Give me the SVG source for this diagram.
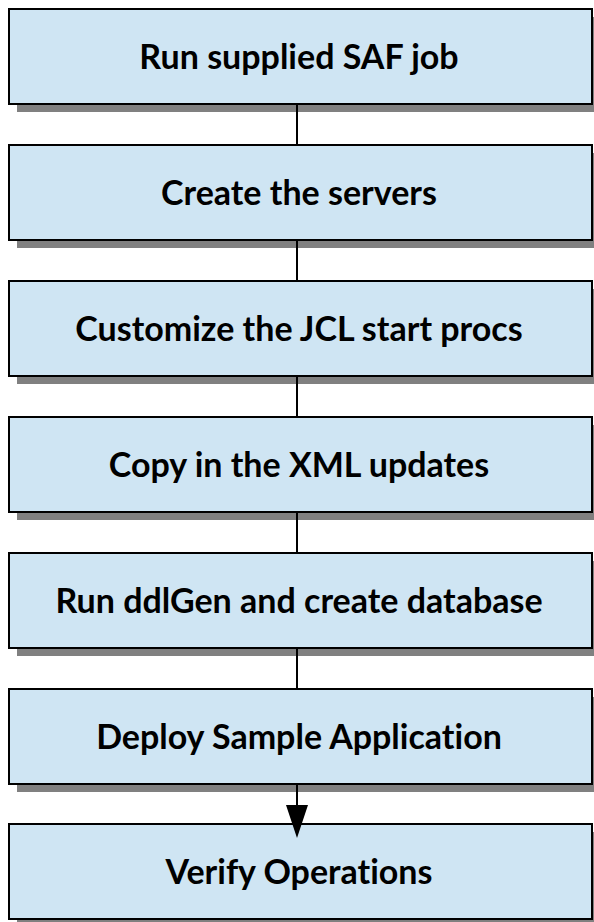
<svg xmlns="http://www.w3.org/2000/svg" width="594" height="922" viewBox="0 0 594 922">
  <style>
    .shadow { fill: #808080; }
    .box { fill: #cfe5f3; stroke: #000; stroke-width: 2; }
    .label { font-family: Lato, "Open Sans", "Liberation Sans", sans-serif; font-weight: bold; font-size: 34px; fill: #000; text-anchor: middle; font-variant-ligatures: none; }
    .link { stroke: #000; stroke-width: 2; fill: none; }
    .head { fill: #000; }
  </style>
  <rect width="594" height="922" fill="#fff"/>

  <g id="step1">
    <rect class="shadow" x="17" y="17" width="583" height="95"/>
    <rect class="box" x="9" y="9" width="583" height="95"/>
    <text class="label" x="299" y="69">Run supplied SAF job</text>
  </g>
  <g id="step2">
    <rect class="shadow" x="17" y="153" width="583" height="95"/>
    <rect class="box" x="9" y="145" width="583" height="95"/>
    <text class="label" x="299" y="205">Create the servers</text>
  </g>
  <g id="step3">
    <rect class="shadow" x="17" y="289" width="583" height="95"/>
    <rect class="box" x="9" y="281" width="583" height="95"/>
    <text class="label" x="299" y="341">Customize the JCL start procs</text>
  </g>
  <g id="step4">
    <rect class="shadow" x="17" y="425" width="583" height="95"/>
    <rect class="box" x="9" y="417" width="583" height="95"/>
    <text class="label" x="299" y="477">Copy in the XML updates</text>
  </g>
  <g id="step5">
    <rect class="shadow" x="17" y="561" width="583" height="95"/>
    <rect class="box" x="9" y="553" width="583" height="95"/>
    <text class="label" x="299" y="613">Run ddlGen and create database</text>
  </g>
  <g id="step6">
    <rect class="shadow" x="17" y="697" width="583" height="95"/>
    <rect class="box" x="9" y="689" width="583" height="95"/>
    <text class="label" x="299" y="749">Deploy Sample Application</text>
  </g>
  <g id="step7">
    <rect class="shadow" x="17" y="832" width="583" height="95"/>
    <rect class="box" x="9" y="824" width="583" height="95"/>
    <text class="label" x="299" y="884">Verify Operations</text>
  </g>

  <g id="connectors">
    <line class="link" x1="297" y1="104" x2="297" y2="145"/>
    <line class="link" x1="297" y1="240" x2="297" y2="281"/>
    <line class="link" x1="297" y1="376" x2="297" y2="417"/>
    <line class="link" x1="297" y1="512" x2="297" y2="553"/>
    <line class="link" x1="297" y1="648" x2="297" y2="689"/>
    <line class="link" x1="297" y1="784" x2="297" y2="806"/>
    <polygon class="head" points="286,805 308,805 297,838"/>
  </g>
</svg>
